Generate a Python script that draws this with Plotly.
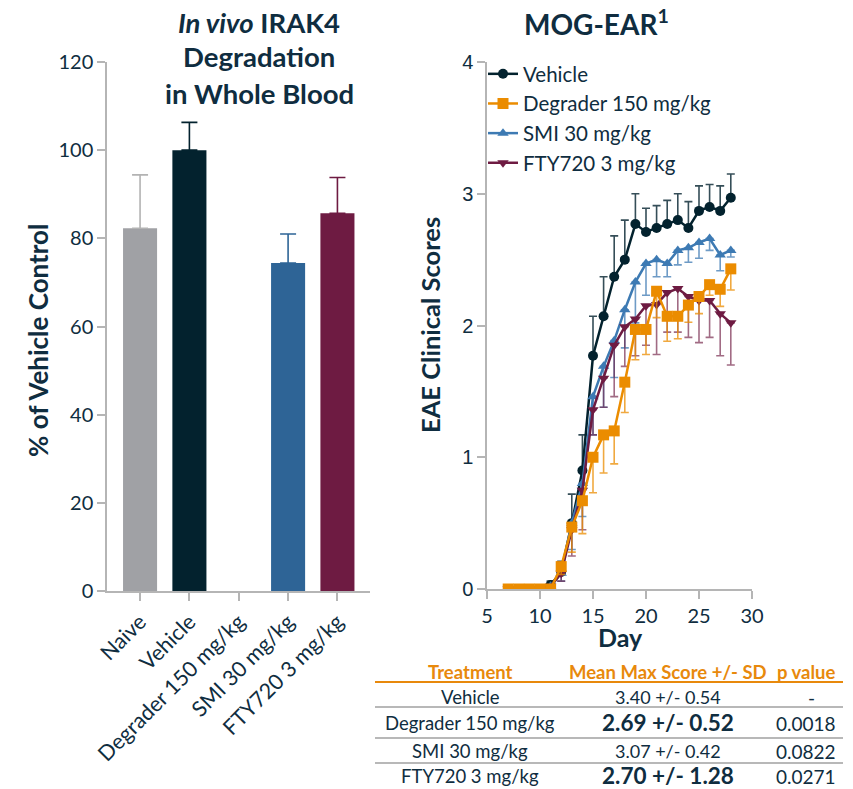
import plotly.graph_objects as go

# ---------------- data ----------------
bar_categories = ["Naive", "Vehicle", "Degrader 150 mg/kg", "SMI 30 mg/kg", "FTY720 3 mg/kg"]
bar_values = [82.3, 100.0, None, 74.4, 85.7]
bar_errors = [12.1, 6.3, None, 6.6, 8.1]
bar_colors = ["#a0a1a5", "#03222e", "#ffffff", "#2e6496", "#6e1b42"]
bar_err_colors = ["#b3b3b3", "#03222e", "#ffffff", "#2e6496", "#6e1b42"]

days = list(range(7, 29))
vehicle = [0, 0, 0, 0, 0.03, 0.13, 0.50, 0.90, 1.77, 2.07, 2.37, 2.50, 2.77, 2.71, 2.74, 2.77, 2.80, 2.74, 2.87, 2.90, 2.87, 2.97]
vehicle_err = [0, 0, 0, 0, 0.03, 0.08, 0.22, 0.27, 0.30, 0.30, 0.31, 0.30, 0.23, 0.18, 0.17, 0.18, 0.20, 0.20, 0.19, 0.17, 0.19, 0.18]
degrader = [0, 0, 0, 0, 0, 0.17, 0.47, 0.67, 1.00, 1.17, 1.20, 1.57, 1.97, 1.97, 2.26, 2.07, 2.07, 2.155, 2.22, 2.31, 2.275, 2.43]
degrader_err = [0, 0, 0, 0, 0, 0.06, 0.19, 0.25, 0.27, 0.29, 0.25, 0.23, 0.23, 0.19, 0.20, 0.19, 0.17, 0.13, 0.13, 0.08, 0.13, 0.16]
smi = [0, 0, 0, 0, 0.02, 0.12, 0.50, 0.80, 1.46, 1.69, 1.885, 2.12, 2.33, 2.47, 2.50, 2.47, 2.57, 2.59, 2.63, 2.66, 2.535, 2.57]
smi_err = [0, 0, 0, 0, 0.02, 0.06, 0.20, 0.25, 0.29, 0.31, 0.28, 0.29, 0.31, 0.24, 0.13, 0.10, 0.11, 0.11, 0.12, 0.09, 0.12, 0.05]
fty = [0, 0, 0, 0, 0.02, 0.12, 0.45, 0.75, 1.36, 1.60, 1.85, 1.99, 2.05, 2.15, 2.16, 2.25, 2.28, 2.22, 2.19, 2.19, 2.09, 2.02]
fty_err = [0, 0, 0, 0, 0.02, 0.06, 0.20, 0.30, 0.19, 0.22, 0.39, 0.30, 0.28, 0.30, 0.38, 0.30, 0.33, 0.31, 0.32, 0.28, 0.32, 0.32]

title_left_lines = ["<i>In vivo</i> IRAK4", "Degradation", "in Whole Blood"]
table_header = ["Treatment", "Mean Max Score +/- SD", "p value"]
table_treatments = ["Vehicle", "Degrader 150 mg/kg", "SMI 30 mg/kg", "FTY720 3 mg/kg"]
table_scores = ["3.40 +/- 0.54", "2.69 +/- 0.52", "3.07 +/- 0.42", "2.70 +/- 1.28"]
table_bold = [False, True, False, True]
table_pvalues = ["-", "0.0018", "0.0822", "0.0271"]

# ---------------- style ----------------
W, H = 853, 789
TXT = "#0f2d40"
FONT = "Lato"
AXC = "#b5b5b5"
ORANGE = "#e8890c"


def px(x):
    return x / W


def py(y):
    return 1 - y / H


fig = go.Figure()

# ---------- left bar chart ----------
for cat, v, e, c, ec in zip(bar_categories, bar_values, bar_errors, bar_colors, bar_err_colors):
    fig.add_trace(go.Bar(
        x=[cat], y=[v], width=0.69,
        marker=dict(color=c, line=dict(width=0)),
        error_y=dict(type="data", array=[e], arrayminus=[0], symmetric=False,
                     color=ec, thickness=1.6, width=8),
        showlegend=False, xaxis="x", yaxis="y", hoverinfo="skip",
    ))

# ---------- right line chart ----------
series = [
    ("Vehicle", vehicle, vehicle_err, "#03222e", "rgba(3,34,46,0.8)", "circle", True, 1),
    ("SMI 30 mg/kg", smi, smi_err, "#3d7ab3", "rgba(61,122,179,0.75)", "triangle-up", False, 3),
    ("FTY720 3 mg/kg", fty, fty_err, "#6e1b42", "rgba(110,27,66,0.65)", "triangle-down", False, 4),
    ("Degrader 150 mg/kg", degrader, degrader_err, "#eb8c00", "rgba(235,140,0,0.75)", "square", False, 2),
]
for name, vals, errs, col, ecol, sym, up, rank in series:
    zeros = [0] * len(errs)
    fig.add_trace(go.Scatter(
        x=days, y=vals, name=name, mode="lines+markers",
        line=dict(color=col, width=2.5),
        marker=dict(color=col, symbol=sym, size=10 if sym != "square" else 11),
        error_y=dict(type="data", symmetric=False,
                     array=errs if up else zeros,
                     arrayminus=zeros if up else errs,
                     color=ecol, thickness=1.6, width=4),
        xaxis="x2", yaxis="y2", legendrank=rank,
    ))

axis_common = dict(
    showline=True, linecolor=AXC, linewidth=1.5, ticks="outside",
    tickcolor=AXC, ticklen=8, tickwidth=1.5, showgrid=False, zeroline=False,
    automargin=False,
)

fig.update_layout(
    width=W, height=H,
    margin=dict(l=0, r=0, t=0, b=0),
    paper_bgcolor="white", plot_bgcolor="white",
    font=dict(family=FONT, color=TXT, size=18),
    barmode="overlay",
    xaxis=dict(
        domain=[px(107), px(370)], anchor="y",
        type="category", categoryorder="array", categoryarray=bar_categories,
        range=[-0.67, 4.66], tickangle=-45,
        tickfont=dict(family=FONT, size=21.5, color=TXT),
        **axis_common,
    ),
    yaxis=dict(
        domain=[py(591), py(62)], anchor="x",
        range=[0, 120], tickvals=[0, 20, 40, 60, 80, 100, 120],
        tickfont=dict(family=FONT, size=20, color=TXT),
        **axis_common,
    ),
    xaxis2=dict(
        domain=[px(487), px(752)], anchor="y2",
        range=[5, 30], tickvals=[5, 10, 15, 20, 25, 30],
        tickfont=dict(family=FONT, size=20, color=TXT),
        **axis_common,
    ),
    yaxis2=dict(
        domain=[py(589), py(62)], anchor="x2",
        range=[0, 4], tickvals=[0, 1, 2, 3, 4],
        tickfont=dict(family="Liberation Sans", size=20, color=TXT),
        **axis_common,
    ),
    legend=dict(
        x=px(483), y=py(54), xanchor="left", yanchor="top",
        bgcolor="rgba(0,0,0,0)", font=dict(family=FONT, size=20.5, color=TXT),
        itemwidth=30, tracegroupgap=0,
    ),
)

P = dict(xref="paper", yref="paper", showarrow=False)
ann = []
# titles
for line, cy in zip(title_left_lines, [22, 57, 93]):
    ann.append(dict(text=f"<b>{line}</b>", x=px(259), y=py(cy), xanchor="center", yanchor="middle",
                    font=dict(family=FONT, size=27.5, color=TXT), **P))
ann.append(dict(text="<b>MOG-EAR<sup>1</sup></b>",
                x=px(596), y=py(22), xanchor="center", yanchor="middle",
                font=dict(family=FONT, size=28, color=TXT), **P))
# axis titles
ann.append(dict(text="<b>% of Vehicle Control</b>", x=px(38), y=py(341),
                xanchor="center", yanchor="middle", textangle=-90,
                font=dict(family=FONT, size=26, color=TXT), **P))
ann.append(dict(text="<b>EAE Clinical Scores</b>", x=px(430), y=py(325),
                xanchor="center", yanchor="middle", textangle=-90,
                font=dict(family=FONT, size=25.5, color=TXT), **P))
ann.append(dict(text="<b>Day</b>", x=px(620), y=py(637),
                xanchor="center", yanchor="middle",
                font=dict(family=FONT, size=25, color=TXT), **P))

# table
col_x = [470, 668, 806]
ann += [dict(text=f"<b>{h}</b>", x=px(cx), y=py(672), xanchor="center", yanchor="middle",
             font=dict(family=FONT, size=18.5, color=ORANGE), **P)
        for h, cx in zip(table_header, col_x)]
row_y = [697, 723, 751, 776]
for ry, t, s, b, p in zip(row_y, table_treatments, table_scores, table_bold, table_pvalues):
    ann.append(dict(text=t, x=px(col_x[0]), y=py(ry), xanchor="center", yanchor="middle",
                    font=dict(family=FONT, size=18.5, color=TXT), **P))
    ann.append(dict(text=f"<b>{s}</b>" if b else s, x=px(col_x[1]), y=py(ry - 1 if b else ry),
                    xanchor="center", yanchor="middle",
                    font=dict(family=FONT, size=22.5 if b else 18, color=TXT), **P))
    ann.append(dict(text=p, x=px(838) if p != "-" else px(811), y=py(ry),
                    xanchor="right" if p != "-" else "center", yanchor="middle",
                    font=dict(family=FONT, size=19, color=TXT), **P))

shapes = [dict(type="line", xref="paper", yref="paper", x0=px(375), x1=px(843),
               y0=py(682), y1=py(682), line=dict(color=ORANGE, width=2))]
for ly in [707, 738, 763]:
    shapes.append(dict(type="line", xref="paper", yref="paper", x0=px(375), x1=px(843),
                       y0=py(ly), y1=py(ly), line=dict(color="#b8b8b8", width=2)))

fig.update_layout(annotations=ann, shapes=shapes)
fig.write_html("out.html")
